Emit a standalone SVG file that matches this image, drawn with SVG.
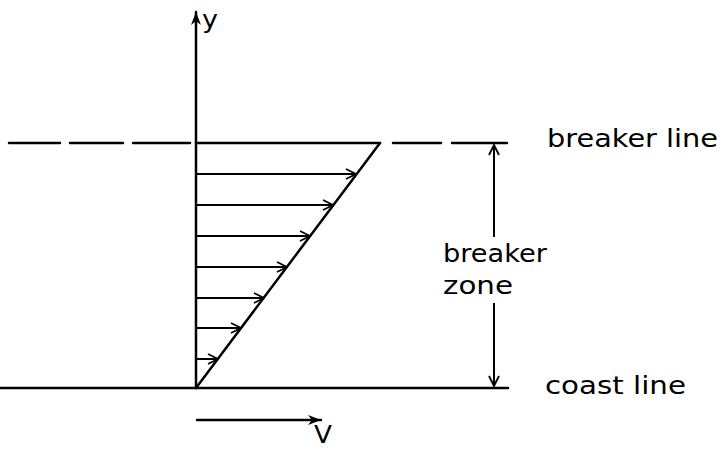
<svg xmlns="http://www.w3.org/2000/svg" width="721" height="450" viewBox="0 0 721 450">
<style>
.ln{stroke:#000;stroke-width:2.5;fill:none;stroke-linecap:round}
.thin{stroke:#000;stroke-width:2;fill:none}
text{font-family:"DejaVu Sans","Liberation Sans",sans-serif;font-size:25px;fill:#000}
</style>
<defs>
<marker id="open" viewBox="0 0 12 12" refX="11" refY="6" markerWidth="12" markerHeight="12" markerUnits="userSpaceOnUse" orient="auto">
<path d="M1,1 L11,6 L1,11" fill="none" stroke="#000" stroke-width="1.8"/>
</marker>
<marker id="solid" viewBox="0 0 14 12" refX="13" refY="6" markerWidth="14" markerHeight="12" markerUnits="userSpaceOnUse" orient="auto">
<path d="M0,1 L13,6 L0,11 L4,6 Z" fill="#000"/>
</marker>
</defs>
<g id="axes">
<line class="ln" x1="196" y1="388" x2="196" y2="12" marker-end="url(#solid)"/>
<text x="202" y="28" textLength="16" lengthAdjust="spacingAndGlyphs">y</text>
</g>
<g id="breaker-line">
<line class="ln" x1="9" y1="143" x2="60" y2="143"/>
<line class="ln" x1="70" y1="143" x2="123" y2="143"/>
<line class="ln" x1="133" y1="143" x2="190" y2="143"/>
<line class="ln" x1="196" y1="143" x2="380" y2="143"/>
<line class="ln" x1="393" y1="143" x2="441" y2="143"/>
<line class="ln" x1="452" y1="143" x2="507" y2="143"/>
<text x="547" y="147" textLength="171" lengthAdjust="spacingAndGlyphs">breaker line</text>
</g>
<g id="coast-line">
<line class="ln" x1="0" y1="388" x2="508" y2="388"/>
<text x="545" y="394" textLength="141" lengthAdjust="spacingAndGlyphs">coast line</text>
</g>
<g id="profile">
<line class="ln" x1="196" y1="388" x2="380" y2="143"/>
</g>
<g id="connectors">
<line class="thin" x1="196" y1="174" x2="356" y2="174" marker-end="url(#open)"/>
<line class="thin" x1="196" y1="205" x2="333" y2="205" marker-end="url(#open)"/>
<line class="thin" x1="196" y1="236" x2="310" y2="236" marker-end="url(#open)"/>
<line class="thin" x1="196" y1="267" x2="287" y2="267" marker-end="url(#open)"/>
<line class="thin" x1="196" y1="298" x2="264" y2="298" marker-end="url(#open)"/>
<line class="thin" x1="196" y1="328" x2="241" y2="328" marker-end="url(#open)"/>
<line class="thin" x1="196" y1="359" x2="218" y2="359" marker-end="url(#open)"/>
<line class="thin" x1="494" y1="237" x2="494" y2="145" marker-end="url(#open)"/>
<line class="thin" x1="494" y1="303" x2="494" y2="386" marker-end="url(#open)"/>
<line class="ln" x1="197" y1="420" x2="321" y2="420" marker-end="url(#solid)"/>
</g>
<g id="zone-label">
<text x="443" y="262" textLength="104" lengthAdjust="spacingAndGlyphs">breaker</text>
<text x="443" y="294" textLength="70" lengthAdjust="spacingAndGlyphs">zone</text>
</g>
<g id="v-label">
<text x="314" y="443" font-size="23" textLength="18" lengthAdjust="spacingAndGlyphs">V</text>
</g>
</svg>
